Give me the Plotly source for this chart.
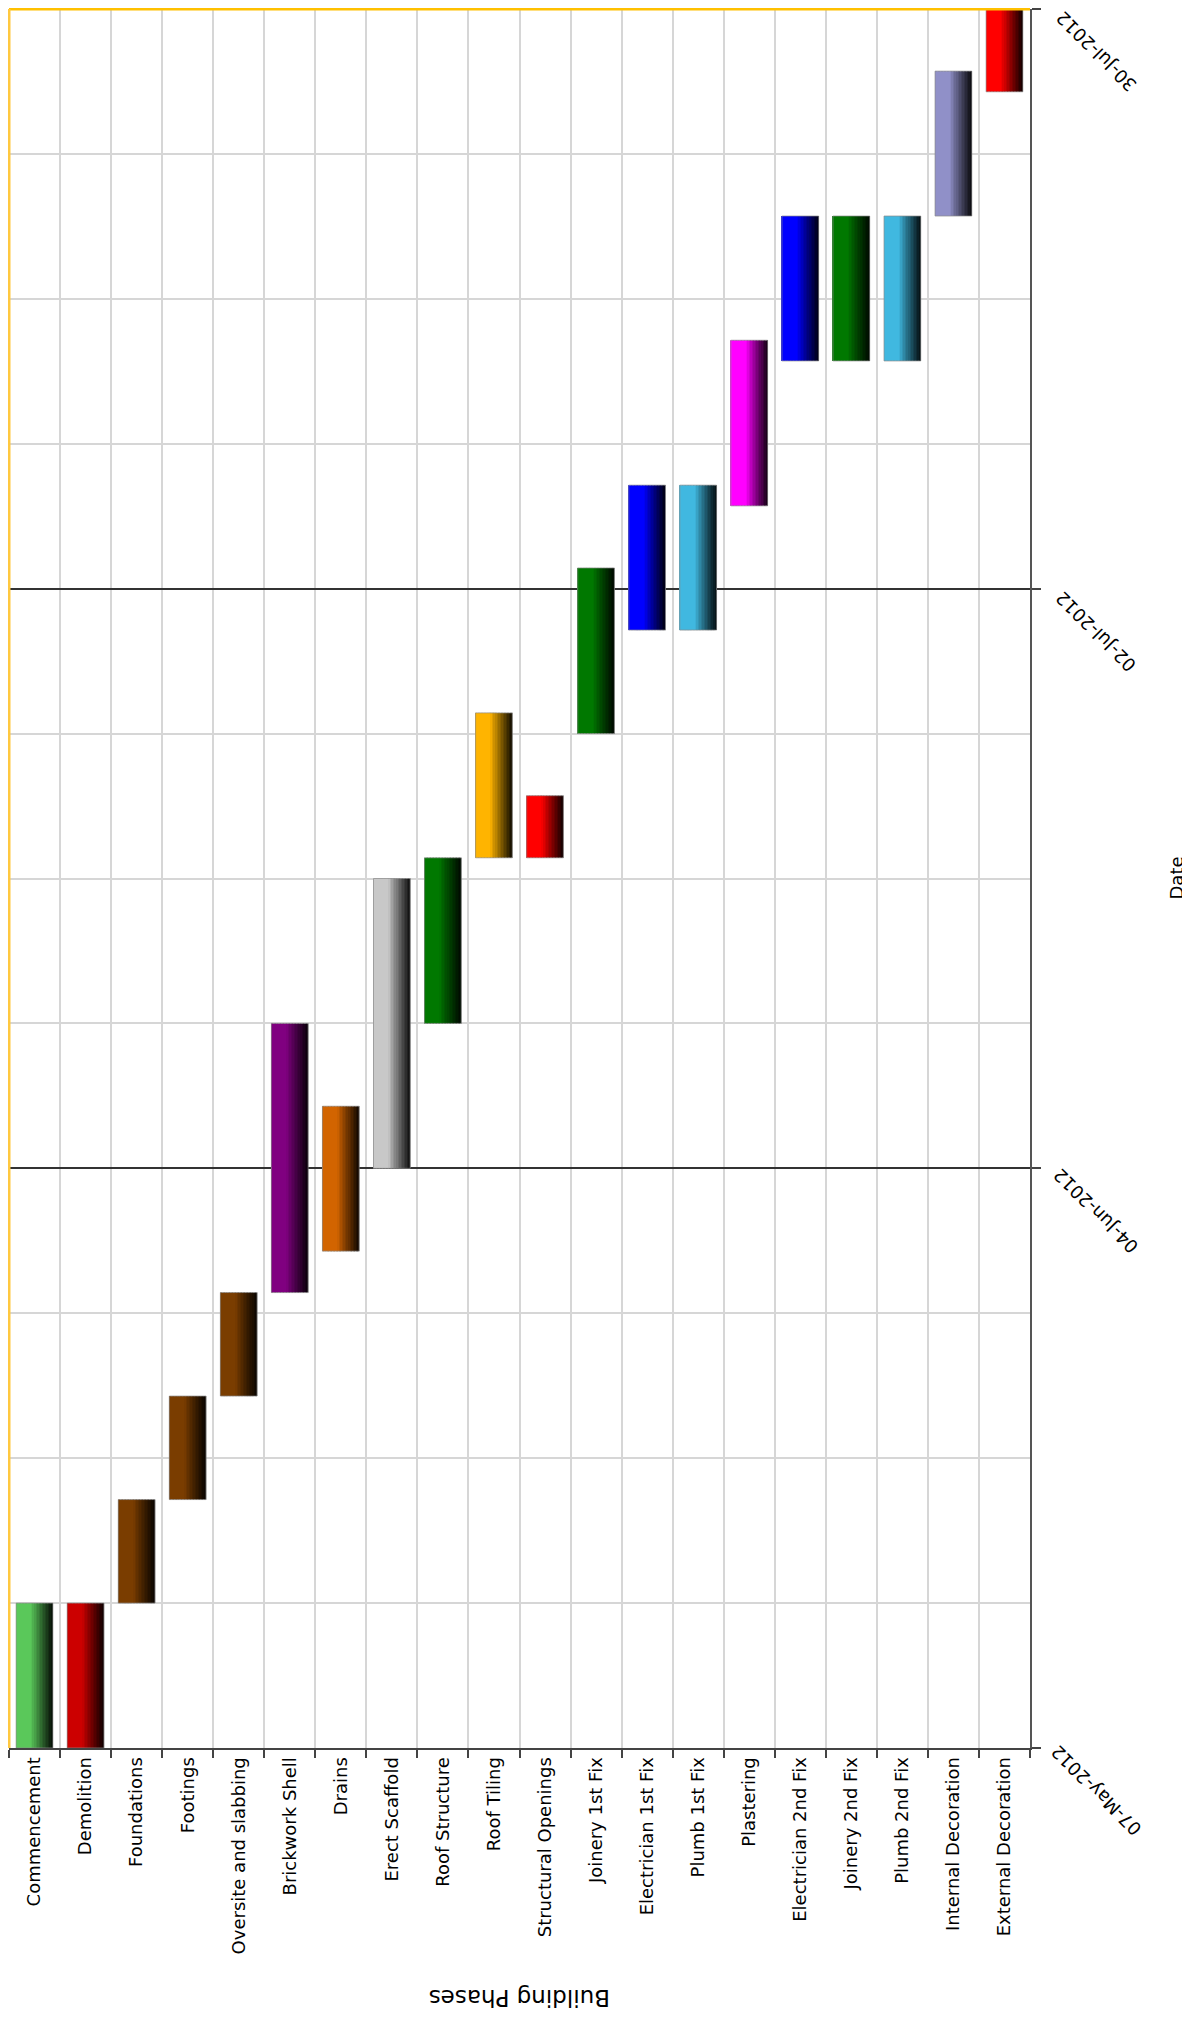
import plotly.graph_objects as go
import pandas as pd

phases = ["Commencement", "Demolition", "Foundations", "Footings", "Oversite and slabbing",
          "Brickwork Shell", "Drains", "Erect Scaffold", "Roof Structure", "Roof Tiling",
          "Structural Openings", "Joinery 1st Fix", "Electrician 1st Fix", "Plumb 1st Fix",
          "Plastering", "Electrician 2nd Fix", "Joinery 2nd Fix", "Plumb 2nd Fix",
          "Internal Decoration", "External Decoration"]
starts = ["2012-05-07", "2012-05-07", "2012-05-14", "2012-05-19", "2012-05-24",
          "2012-05-29", "2012-05-31", "2012-06-04", "2012-06-11", "2012-06-19",
          "2012-06-19", "2012-06-25", "2012-06-30", "2012-06-30",
          "2012-07-06", "2012-07-13", "2012-07-13", "2012-07-13",
          "2012-07-20", "2012-07-26"]
ends = ["2012-05-14", "2012-05-14", "2012-05-19", "2012-05-24", "2012-05-29",
        "2012-06-11", "2012-06-07", "2012-06-18", "2012-06-19", "2012-06-26",
        "2012-06-22", "2012-07-03", "2012-07-07", "2012-07-07",
        "2012-07-14", "2012-07-20", "2012-07-20", "2012-07-20",
        "2012-07-27", "2012-07-30"]
colors = [(90, 200, 90), (204, 0, 0), (122, 61, 0), (122, 61, 0), (122, 61, 0),
          (128, 0, 128), (210, 100, 0), (200, 200, 200), (0, 120, 0), (255, 180, 0),
          (255, 0, 0), (0, 120, 0), (0, 0, 255), (64, 184, 224),
          (255, 0, 255), (0, 0, 255), (0, 120, 0), (64, 184, 224),
          (144, 144, 200), (255, 0, 0)]
tick_dates = ["2012-05-07", "2012-06-04", "2012-07-02", "2012-07-30"]
tick_labels = ["07-May-2012", "04-Jun-2012", "02-Jul-2012", "30-Jul-2012"]

durations = [(pd.Timestamp(e) - pd.Timestamp(s)).total_seconds() * 1000 for s, e in zip(starts, ends)]

FONT = "DejaVu Sans"
fig = go.Figure()

N = 24
BW = 0.72
w = BW / N
for i in range(N):
    t = (i + 0.5) / N
    if t < 0.42:
        f = 1.0
    else:
        f = 1.0 - 0.92 * ((t - 0.42) / 0.58) ** 0.9
    cols = ["rgb(%d,%d,%d)" % (int(r * f), int(g * f), int(b * f)) for (r, g, b) in colors]
    fig.add_trace(go.Bar(
        x=phases, y=durations, base=starts,
        offset=-BW / 2 + i * w, width=w * 1.08,
        marker=dict(color=cols, line=dict(width=0)),
        showlegend=False, hoverinfo="skip"))

fig.add_trace(go.Bar(
    x=phases, y=durations, base=starts, offset=-BW / 2, width=BW,
    marker=dict(color="rgba(0,0,0,0)", line=dict(width=1, color="rgba(140,140,140,0.7)")),
    showlegend=False, hoverinfo="skip"))

# page is offset by 8px body margin; margins chosen so plot area sits at x 9..1030, y 9..1748
L, R, T, B = 1, 168, 1, 280
W, H = 1190, 2020
pw, ph = W - L - R, H - T - B

annotations = []
for d, lab in zip(tick_dates, tick_labels):
    annotations.append(dict(x=1, xref="paper", y=d, yref="y", text=lab, showarrow=False,
                            textangle=-135, xanchor="center", yanchor="middle",
                            xshift=66, yshift=-43,
                            font=dict(family=FONT, size=18, color="black")))
annotations.append(dict(x=0.5, xref="paper", y=(H - B - 1990) / ph, yref="paper",
                        text="Building Phases",
                        showarrow=False, textangle=180, xanchor="center", yanchor="middle",
                        font=dict(family=FONT, size=23, color="black")))
annotations.append(dict(x=(1168 - L) / pw, y=0.5, xref="paper", yref="paper", text="Date",
                        showarrow=False, textangle=-90, xanchor="center", yanchor="middle",
                        font=dict(family=FONT, size=18, color="black")))

fig.update_layout(
    width=W, height=H,
    margin=dict(l=L, r=R, t=T, b=B, autoexpand=False),
    paper_bgcolor="white", plot_bgcolor="white",
    barmode="overlay",
    font=dict(family=FONT, size=18, color="black"),
    xaxis=dict(type="category", categoryorder="array", categoryarray=phases,
               range=[-0.5, len(phases) - 0.5], tickson="boundaries",
               ticks="outside", ticklen=8, tickcolor="#444", tickwidth=1.5,
               showgrid=True, gridcolor="#d6d6d6", gridwidth=1.5,
               showline=True, linecolor="#444", linewidth=2,
               tickangle=-90, tickfont=dict(family=FONT, size=18, color="black")),
    yaxis=dict(type="date", range=["2012-05-07", "2012-07-30"], side="right",
               tick0="2012-05-07", dtick=28 * 86400000,
               showgrid=True, gridcolor="#333", gridwidth=1.5,
               ticks="outside", ticklen=9, tickcolor="#444", tickwidth=1.5,
               showticklabels=False, showline=True, linecolor="#555", linewidth=2,
               zeroline=False,
               minor=dict(tick0="2012-05-07", dtick=7 * 86400000, showgrid=True,
                          gridcolor="#d6d6d6", gridwidth=1.5, ticks="")),
    annotations=annotations,
    shapes=[
        dict(type="line", xref="paper", yref="paper", x0=0, x1=1, y0=1, y1=1,
             line=dict(color="#ffc000", width=3), layer="above"),
        dict(type="line", xref="paper", yref="paper", x0=0, x1=0, y0=0, y1=1,
             line=dict(color="#ffc840", width=3), layer="above"),
    ],
)

fig.write_html("out.html")
